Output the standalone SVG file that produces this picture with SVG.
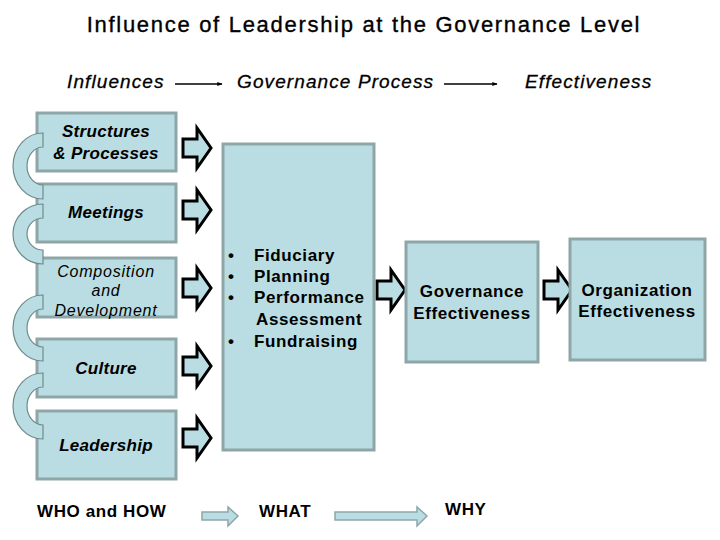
<svg xmlns="http://www.w3.org/2000/svg" width="720" height="540" viewBox="0 0 720 540">
<defs>
<style>
.box{fill:#B9DDE2;stroke:#8FA6A8;stroke-width:3}
.blk{fill:#B9DDE2;stroke:#000;stroke-width:3;stroke-linejoin:miter}
.ring{fill:#B9DDE2;stroke:#6E8C8E;stroke-width:1.2}
.pale{fill:#B9DDE2;stroke:#8FA6A8;stroke-width:1.5}
text{font-family:"Liberation Sans",Arial,sans-serif;fill:#000}
.hd{font-size:19px;font-style:italic;letter-spacing:1.1px;stroke:#000;stroke-width:0.3}
.lb{font-size:17px;font-style:italic;font-weight:bold;text-anchor:middle;letter-spacing:0.3px}
.li{font-size:16px;font-style:italic;text-anchor:middle;letter-spacing:0.8px}
.b{font-size:17px;font-weight:bold;letter-spacing:0.6px}
.bc{font-size:17px;font-weight:bold;text-anchor:middle;letter-spacing:0.6px}
</style>
<marker id="ah" viewBox="0 0 10 10" refX="9" refY="5" markerWidth="4" markerHeight="4" orient="auto"><path d="M0,1 L10,5 L0,9 Z" fill="#000"/></marker>
<path id="blkArrow" class="blk" d="M0,-9 L14,-9 L14,-20 L28,0 L14,20 L14,9 L0,9 Z"/>
</defs>
<rect width="720" height="540" fill="#fff"/>
<text x="364" y="32" font-size="22" letter-spacing="1.7" stroke="#000" stroke-width="0.35" text-anchor="middle">Influence of Leadership at the Governance Level</text>
<text class="hd" x="67" y="88">Influences</text>
<text class="hd" x="237" y="88">Governance Process</text>
<text class="hd" x="525" y="88">Effectiveness</text>
<g id="connectors">
<line x1="175" y1="84" x2="222" y2="84" stroke="#000" stroke-width="1.3" marker-end="url(#ah)"/>
<line x1="444" y1="84" x2="497" y2="84" stroke="#000" stroke-width="1.3" marker-end="url(#ah)"/>
<use href="#blkArrow" x="183" y="148"/>
<use href="#blkArrow" x="183" y="210"/>
<use href="#blkArrow" x="183" y="288"/>
<use href="#blkArrow" x="183" y="366"/>
<use href="#blkArrow" x="183" y="438"/>
<use href="#blkArrow" x="377" y="290"/>
<use href="#blkArrow" x="544" y="290"/>
<path class="pale" d="M202,512 L228,512 L228,507 L238,516 L228,526 L228,520 L202,520 Z"/>
<path class="pale" d="M335,512 L417,512 L417,507 L427,516 L417,526 L417,520 L335,520 Z"/>
</g>
<g id="structures"><rect class="box" x="37" y="113" width="139" height="58"/><text class="lb" x="106" y="137">Structures</text><text class="lb" x="106" y="159">&amp; Processes</text></g>
<g id="meetings"><rect class="box" x="37" y="184" width="139" height="58"/><text class="lb" x="106" y="218">Meetings</text></g>
<g id="composition"><rect class="box" x="37" y="258" width="139" height="59"/><text class="li" x="106" y="277">Composition</text><text class="li" x="106" y="296">and</text><text class="li" x="106" y="316">Development</text></g>
<g id="culture"><rect class="box" x="37" y="339" width="139" height="58"/><text class="lb" x="106" y="374">Culture</text></g>
<g id="leadership"><rect class="box" x="37" y="411" width="139" height="68"/><text class="lb" x="106" y="451">Leadership</text></g>
<g id="rings">
<path class="ring" d="M43,133 A30,33 0 0 0 43,199 L43,185 A16,19 0 0 1 43,147 Z"/>
<path class="ring" d="M43,204 A30,30 0 0 0 43,264 L43,250 A16,16 0 0 1 43,218 Z"/>
<path class="ring" d="M43,295 A30,33 0 0 0 43,361 L43,347 A16,19 0 0 1 43,309 Z"/>
<path class="ring" d="M43,373 A30,33 0 0 0 43,439 L43,425 A16,19 0 0 1 43,387 Z"/>
</g>
<g id="process"><rect class="box" x="223" y="144" width="151" height="306"/>
<text class="b" x="228" y="261">•</text><text class="b" x="254" y="261">Fiduciary</text>
<text class="b" x="228" y="282">•</text><text class="b" x="254" y="282">Planning</text>
<text class="b" x="228" y="303">•</text><text class="b" x="254" y="303">Performance</text>
<text class="b" x="256" y="325">Assessment</text>
<text class="b" x="228" y="347">•</text><text class="b" x="254" y="347">Fundraising</text>
</g>
<g id="governance"><rect class="box" x="406" y="242" width="132" height="120"/><text class="bc" x="472" y="297">Governance</text><text class="bc" x="472" y="319">Effectiveness</text></g>
<g id="organization"><rect class="box" x="570" y="239" width="135" height="121"/><text class="bc" x="637" y="296">Organization</text><text class="bc" x="637" y="317">Effectiveness</text></g>
<text class="b" x="37" y="517">WHO and HOW</text>
<text class="b" x="259" y="517">WHAT</text>
<text class="b" x="445" y="515">WHY</text>
</svg>
